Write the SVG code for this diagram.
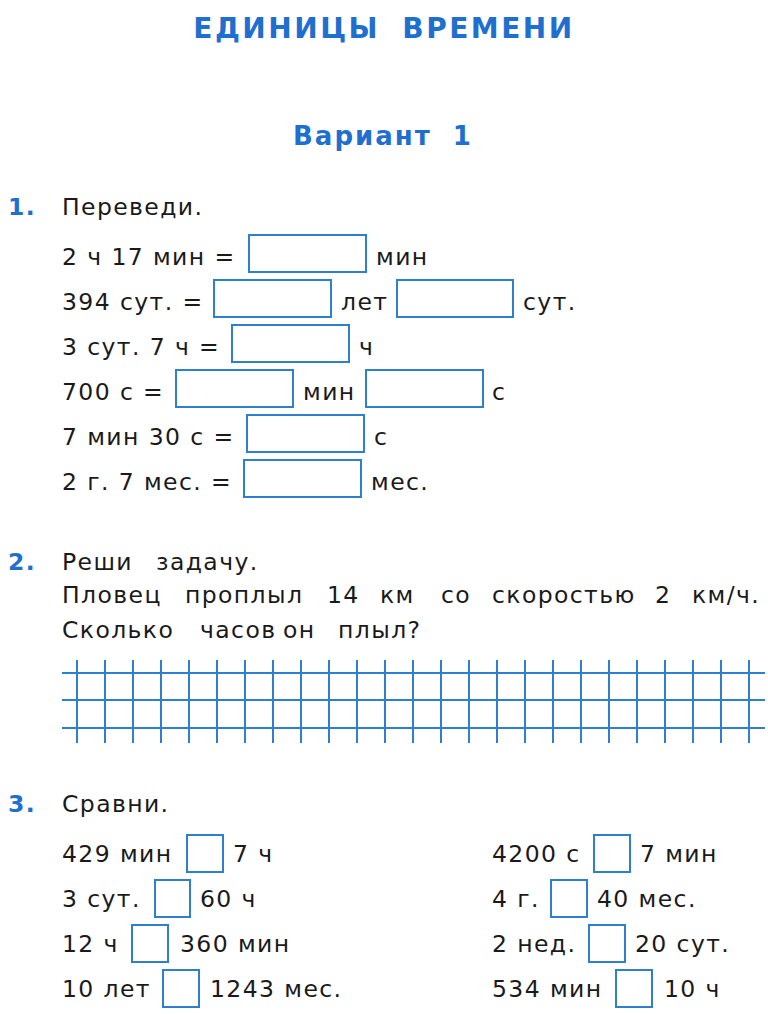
<svg xmlns="http://www.w3.org/2000/svg" width="768" height="1014" viewBox="0 0 768 1014">
<style>
text{font-family:"DejaVu Sans",Verdana,sans-serif;font-size:23.5px;letter-spacing:1.4px;fill:#1a1a1a}
.h{fill:#1f6fd0;font-weight:bold;text-anchor:middle}
.n{fill:#1f6fd0;font-weight:bold}
.b{fill:none;stroke:#2f7fcf;stroke-width:2}
.g line{stroke:#2f7fcf;stroke-width:2}
</style>
<rect width="768" height="1014" fill="#fff"/>
<text class="h" x="384" y="38" style="font-size:28px;letter-spacing:2.5px;word-spacing:10px">ЕДИНИЦЫ ВРЕМЕНИ</text>
<text class="h" x="383" y="145" style="font-size:26px;letter-spacing:2px;word-spacing:10px">Вариант 1</text>

<text class="n" x="8" y="215">1.</text>
<text x="62" y="215">Переведи.</text>
<text x="62" y="265">2 ч 17 мин =</text><rect class="b" x="249" y="235" width="117" height="37"/><text x="376" y="265">мин</text>
<text x="62" y="310">394 сут. =</text><rect class="b" x="214" y="280" width="117" height="37"/><text x="341" y="310">лет</text><rect class="b" x="397" y="280" width="116" height="37"/><text x="523" y="310">сут.</text>
<text x="62" y="355">3 сут. 7 ч =</text><rect class="b" x="232" y="325" width="117" height="37"/><text x="359" y="355">ч</text>
<text x="62" y="400">700 с =</text><rect class="b" x="176" y="370" width="117" height="37"/><text x="303" y="400">мин</text><rect class="b" x="366" y="370" width="117" height="37"/><text x="492" y="400">с</text>
<text x="62" y="445">7 мин 30 с =</text><rect class="b" x="247" y="415" width="117" height="37"/><text x="374" y="445">с</text>
<text x="62" y="490">2 г. 7 мес. =</text><rect class="b" x="244" y="460" width="117" height="37"/><text x="371" y="490">мес.</text>

<text class="n" x="8" y="570">2.</text>
<text y="570"><tspan x="62">Реши</tspan><tspan x="156">задачу.</tspan></text>
<text y="603"><tspan x="62">Пловец</tspan><tspan x="185">проплыл</tspan><tspan x="327">14</tspan><tspan x="380">км</tspan><tspan x="441">со</tspan><tspan x="492">скоростью</tspan><tspan x="655">2</tspan><tspan x="692">км/ч.</tspan></text>
<text y="638"><tspan x="62">Сколько</tspan><tspan x="200">часов</tspan><tspan x="283">он</tspan><tspan x="338">плыл?</tspan></text>
<g class="g">
<line x1="62" y1="673" x2="765" y2="673"/><line x1="62" y1="700" x2="765" y2="700"/><line x1="62" y1="728" x2="765" y2="728"/>
<line x1="77" y1="660" x2="77" y2="743"/><line x1="105" y1="660" x2="105" y2="743"/><line x1="133" y1="660" x2="133" y2="743"/><line x1="161" y1="660" x2="161" y2="743"/><line x1="189" y1="660" x2="189" y2="743"/><line x1="217" y1="660" x2="217" y2="743"/><line x1="245" y1="660" x2="245" y2="743"/><line x1="273" y1="660" x2="273" y2="743"/><line x1="301" y1="660" x2="301" y2="743"/><line x1="329" y1="660" x2="329" y2="743"/><line x1="357" y1="660" x2="357" y2="743"/><line x1="385" y1="660" x2="385" y2="743"/><line x1="413" y1="660" x2="413" y2="743"/><line x1="441" y1="660" x2="441" y2="743"/><line x1="469" y1="660" x2="469" y2="743"/><line x1="497" y1="660" x2="497" y2="743"/><line x1="525" y1="660" x2="525" y2="743"/><line x1="553" y1="660" x2="553" y2="743"/><line x1="581" y1="660" x2="581" y2="743"/><line x1="609" y1="660" x2="609" y2="743"/><line x1="637" y1="660" x2="637" y2="743"/><line x1="665" y1="660" x2="665" y2="743"/><line x1="693" y1="660" x2="693" y2="743"/><line x1="721" y1="660" x2="721" y2="743"/><line x1="749" y1="660" x2="749" y2="743"/>
</g>

<text class="n" x="8" y="812">3.</text>
<text x="62" y="812">Сравни.</text>
<text x="62" y="862">429 мин</text><rect class="b" x="187" y="835" width="36" height="37"/><text x="233" y="862">7 ч</text>
<text x="492" y="862">4200 с</text><rect class="b" x="594" y="835" width="36" height="37"/><text x="640" y="862">7 мин</text>
<text x="62" y="907">3 сут.</text><rect class="b" x="155" y="880" width="35" height="37"/><text x="200" y="907">60 ч</text>
<text x="492" y="907">4 г.</text><rect class="b" x="551" y="880" width="36" height="37"/><text x="597" y="907">40 мес.</text>
<text x="62" y="952">12 ч</text><rect class="b" x="132" y="925" width="36" height="37"/><text x="180" y="952">360 мин</text>
<text x="492" y="952">2 нед.</text><rect class="b" x="589" y="925" width="36" height="37"/><text x="635" y="952">20 сут.</text>
<text x="62" y="997">10 лет</text><rect class="b" x="163" y="970" width="36" height="37"/><text x="210" y="997">1243 мес.</text>
<text x="492" y="997">534 мин</text><rect class="b" x="616" y="970" width="36" height="37"/><text x="664" y="997">10 ч</text>
</svg>
